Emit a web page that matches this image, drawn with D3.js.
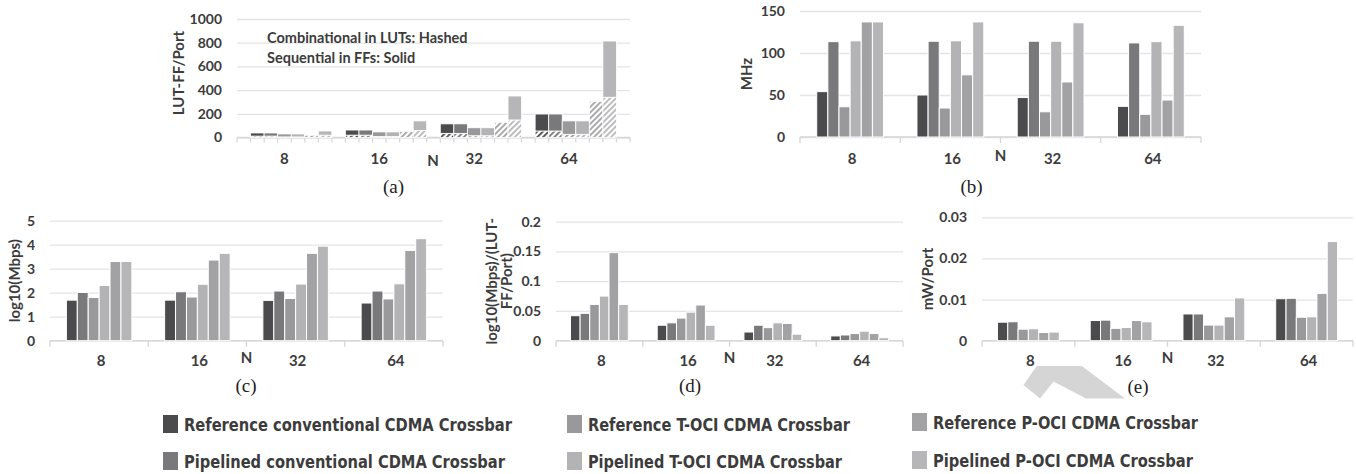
<!DOCTYPE html>
<html>
<head>
<meta charset="utf-8">
<script src="https://cdn.jsdelivr.net/npm/d3@7"></script>
<style>
  body { margin: 0; background: #fff; }
  svg { display: block; }
  text { font-family: Lato, "Open Sans", sans-serif; font-weight: 700; fill: #3c3c3c; }
  .cap { font-family: "Liberation Serif", serif; font-weight: 400; font-size: 19px; fill: #222; }
</style>
</head>
<body>
<svg id="chart" width="1356" height="474"></svg>
<script>
// Data
const groups = ["8", "16", "32", "64"];
const seriesNames = [
  "Reference conventional CDMA Crossbar",
  "Pipelined conventional CDMA Crossbar",
  "Reference T-OCI CDMA Crossbar",
  "Pipelined T-OCI CDMA Crossbar",
  "Reference P-OCI CDMA Crossbar",
  "Pipelined P-OCI CDMA Crossbar"
];
const seriesColors = ["#4b4b4d", "#79797c", "#99999b", "#b3b3b6", "#a2a2a4", "#b6b6b9"];

// (a) LUT-FF/Port: combinational (LUT, hashed) + sequential (FF, solid)
const lutPerPort = [
  [12, 20, 35, 55],
  [12, 20, 35, 55],
  [5, 8, 15, 27],
  [5, 8, 15, 27],
  [20, 52, 128, 305],
  [20, 58, 148, 340]
];
const ffPerPort = [
  [26, 43, 80, 143],
  [26, 43, 80, 143],
  [25, 39, 67, 113],
  [25, 39, 67, 113],
  [1, 3, 3, 5],
  [35, 82, 202, 474]
];
// (b) MHz
const freqMHz = [
  [54, 50, 47, 36.5],
  [113.5, 114, 114, 112],
  [36, 34.5, 30, 27],
  [114.5, 114.5, 114, 113.5],
  [137, 74, 65.5, 44],
  [137, 137, 136, 133]
];
// (c) log10(Mbps)
const logMbps = [
  [1.69, 1.69, 1.68, 1.57],
  [2.01, 2.04, 2.07, 2.07],
  [1.80, 1.82, 1.76, 1.74],
  [2.30, 2.35, 2.36, 2.37],
  [3.30, 3.36, 3.64, 3.76],
  [3.30, 3.64, 3.94, 4.25]
];
// (d) log10(Mbps)/(LUT-FF/Port)
const mbpsPerArea = [
  [0.042, 0.026, 0.0146, 0.008],
  [0.046, 0.030, 0.026, 0.0096],
  [0.061, 0.038, 0.022, 0.012],
  [0.075, 0.048, 0.030, 0.016],
  [0.148, 0.060, 0.029, 0.012],
  [0.061, 0.026, 0.011, 0.005]
];
// (e) mW/Port
const powerPerPort = [
  [0.0045, 0.0049, 0.0065, 0.0102],
  [0.0046, 0.0050, 0.0065, 0.0103],
  [0.0028, 0.0030, 0.0038, 0.0057],
  [0.0029, 0.0032, 0.0038, 0.0058],
  [0.0020, 0.0049, 0.0058, 0.0115],
  [0.0021, 0.0046, 0.0104, 0.0241]
];

const svg = d3.select("#chart");
const defs = svg.append("defs");

// hatch patterns, one per series colour
seriesColors.forEach((c, i) => {
  const p = defs.append("pattern")
    .attr("id", "hatch" + i)
    .attr("patternUnits", "userSpaceOnUse")
    .attr("width", 4).attr("height", 4)
    .attr("patternTransform", "rotate(45)");
  p.append("rect").attr("width", 4).attr("height", 4).attr("fill", "#fff");
  p.append("rect").attr("width", 1.8).attr("height", 4).attr("fill", c);
});

function drawYAxis(g, y, x0, x1, ticks, fmt) {
  const ax = g.append("g")
    .attr("transform", `translate(${x0},0)`)
    .call(d3.axisLeft(y).tickValues(ticks).tickFormat(fmt).tickSize(-(x1 - x0)).tickPadding(15));
  ax.select(".domain").remove();
  ax.selectAll(".tick line").attr("stroke", "#e4e4e4").attr("stroke-width", 1.3);
  ax.selectAll(".tick text").attr("font-size", 14).attr("fill", "#3c3c3c")
    .style("font-family", "Lato, sans-serif").style("font-weight", 700);
  // base line
  g.append("line")
    .attr("x1", x0).attr("x2", x1)
    .attr("y1", y(0)).attr("y2", y(0))
    .attr("stroke", "#d6d6d6").attr("stroke-width", 1.3);
}

function yTitle(g, lines, x, y) {
  const t = g.append("text")
    .attr("transform", `translate(${x},${y}) rotate(-90)`)
    .attr("text-anchor", "middle")
    .attr("font-size", 15);
  lines.forEach((l, i) => {
    t.append("tspan").attr("x", 0).attr("dy", i === 0 ? -(lines.length - 1) * 7.5 : 15).text(l);
  });
}

function drawPanel(cfg) {
  const g = svg.append("g");
  const y = d3.scaleLinear().domain([0, cfg.max]).range([cfg.yBot, cfg.yTop]);
  const gx = d3.scaleBand().domain(groups).range([cfg.x0, cfg.x1]);
  const bw = gx.bandwidth();
  const sx = d3.scaleBand().domain(d3.range(6)).range([bw / 6, bw * 5 / 6]);

  drawYAxis(g, y, cfg.x0, cfg.x1, cfg.ticks, cfg.fmt);

  // group boundary ticks
  g.selectAll(".gt").data(d3.range(groups.length + 1)).join("line")
    .attr("x1", i => cfg.x0 + i * bw).attr("x2", i => cfg.x0 + i * bw)
    .attr("y1", y(0)).attr("y2", y(0) + 6)
    .attr("stroke", "#d6d6d6").attr("stroke-width", 1.3);

  cfg.values.forEach((vals, si) => {
    g.selectAll(null).data(vals).join("rect")
      .attr("x", (d, gi) => gx(groups[gi]) + sx(si))
      .attr("width", sx.bandwidth())
      .attr("y", d => y(d))
      .attr("height", d => y(0) - y(d))
      .attr("fill", seriesColors[si])
      .attr("stroke", "#fff").attr("stroke-width", 1);
  });

  g.selectAll(".gl").data(groups).join("text")
    .attr("x", d => gx(d) + bw / 2 + 2)
    .attr("y", cfg.labelY)
    .attr("text-anchor", "middle")
    .attr("font-size", 15)
    .text(d => d);

  g.append("text").attr("x", (cfg.x0 + cfg.x1) / 2).attr("y", cfg.labelY - 3)
    .attr("text-anchor", "middle").attr("font-size", 15).text("N");

  yTitle(g, cfg.title, cfg.titleX, (cfg.yTop + cfg.yBot) / 2);

  g.append("text").attr("class", "cap")
    .attr("x", cfg.capX).attr("y", cfg.capY)
    .attr("text-anchor", "middle").text(cfg.cap);
  return { g, y, gx };
}

// (a) stacked LUT/FF chart on a slot axis
(function panelA() {
  const g = svg.append("g");
  const x0 = 237, x1 = 630;
  const y = d3.scaleLinear().domain([0, 1000]).range([137.5, 19]);
  const slotsPerGroup = 7;
  const slot = d3.scaleBand().domain(d3.range(groups.length * slotsPerGroup + 1)).range([x0, x1]);
  const step = slot.step();

  drawYAxis(g, y, x0, x1, [0, 200, 400, 600, 800, 1000], d3.format("d"));

  g.selectAll(".st").data(d3.range(groups.length * slotsPerGroup + 2)).join("line")
    .attr("x1", k => x0 + k * step).attr("x2", k => x0 + k * step)
    .attr("y1", y(0)).attr("y2", y(0) + 5)
    .attr("stroke", "#d6d6d6").attr("stroke-width", 1.2);

  seriesNames.forEach((_, si) => {
    const lut = lutPerPort[si], ff = ffPerPort[si];
    const bx = gi => slot(gi * slotsPerGroup + 1 + si);
    g.selectAll(null).data(lut).join("rect")
      .attr("x", (d, gi) => bx(gi)).attr("width", step)
      .attr("y", d => y(d)).attr("height", d => y(0) - y(d))
      .attr("fill", `url(#hatch${si})`)
      .attr("stroke", "#fff").attr("stroke-width", 0.8);
    g.selectAll(null).data(ff).join("rect")
      .attr("x", (d, gi) => bx(gi)).attr("width", step)
      .attr("y", (d, gi) => y(lut[gi] + d)).attr("height", (d, gi) => y(lut[gi]) - y(lut[gi] + d))
      .attr("fill", seriesColors[si])
      .attr("stroke", "#fff").attr("stroke-width", 0.8);
  });

  g.selectAll(".gl").data(groups).join("text")
    .attr("x", (d, gi) => slot(gi * slotsPerGroup) + step * 3.5)
    .attr("y", 164)
    .attr("text-anchor", "middle").attr("font-size", 15).text(d => d);
  g.append("text").attr("x", 433).attr("y", 166).attr("text-anchor", "middle")
    .attr("font-size", 15).text("N");

  g.append("text").attr("x", 267).attr("y", 43).attr("font-size", 14.5).text("Combinational in LUTs: Hashed");
  g.append("text").attr("x", 267).attr("y", 63).attr("font-size", 14.5).text("Sequential in FFs: Solid");

  yTitle(g, ["LUT-FF/Port"], 184, 73);
  g.append("text").attr("class", "cap").attr("x", 393.5).attr("y", 193)
    .attr("text-anchor", "middle").text("(a)");
})();

drawPanel({
  x0: 800, x1: 1201, yTop: 11, yBot: 137, max: 150, ticks: [0, 50, 100, 150], fmt: d3.format("d"),
  values: freqMHz, labelY: 164, title: ["MHz"], titleX: 752, cap: "(b)", capX: 971.5, capY: 193
});
drawPanel({
  x0: 50, x1: 443, yTop: 220.7, yBot: 340.7, max: 5, ticks: [0, 1, 2, 3, 4, 5], fmt: d3.format("d"),
  values: logMbps, labelY: 366, title: ["log10(Mbps)"], titleX: 20, cap: "(c)", capX: 246, capY: 392
});
drawPanel({
  x0: 556, x1: 903, yTop: 221.7, yBot: 340.7, max: 0.2, ticks: [0, 0.05, 0.1, 0.15, 0.2],
  fmt: d => d === 0 ? "0" : String(d),
  values: mbpsPerArea, labelY: 366, title: ["log10(Mbps)/(LUT-", "FF/Port)"], titleX: 504, cap: "(d)", capX: 690, capY: 392
});
drawPanel({
  x0: 982, x1: 1353, yTop: 217.3, yBot: 340.7, max: 0.03, ticks: [0, 0.01, 0.02, 0.03],
  fmt: d => d === 0 ? "0" : d3.format(".2f")(d),
  values: powerPerPort, labelY: 366, title: ["mW/Port"], titleX: 933, cap: "(e)", capX: 1138, capY: 393
});

// grey scanning artefact under panel (e)
svg.insert("path", ":first-child")
  .attr("d", "M1036.7,366 L1081.7,366 L1125,398.5 L1086,398.5 L1053.5,381.5 L1040,398.5 L1023.5,385 Z")
  .attr("fill", "#d5d5d5");

// Legend
const legendPos = [
  { x: 163, y: 424 }, { x: 163, y: 461 },
  { x: 567, y: 424 }, { x: 567, y: 461 },
  { x: 912, y: 422 }, { x: 912, y: 460 }
];
const legendWidths = [328, 321, 262, 254, 265, 260];
const leg = svg.append("g");
seriesNames.forEach((name, i) => {
  const p = legendPos[i];
  leg.append("rect").attr("x", p.x).attr("y", p.y - 9).attr("width", 15).attr("height", 18)
    .attr("fill", seriesColors[i]);
  leg.append("text").attr("x", p.x + 21).attr("y", p.y + 6.5)
    .attr("font-size", 18)
    .style("font-family", "'DejaVu Sans Condensed', 'Liberation Sans Narrow', sans-serif")
    .attr("textLength", legendWidths[i]).attr("lengthAdjust", "spacingAndGlyphs")
    .attr("fill", "#1a1a1a")
    .text(name);
});
</script>
</body>
</html>
